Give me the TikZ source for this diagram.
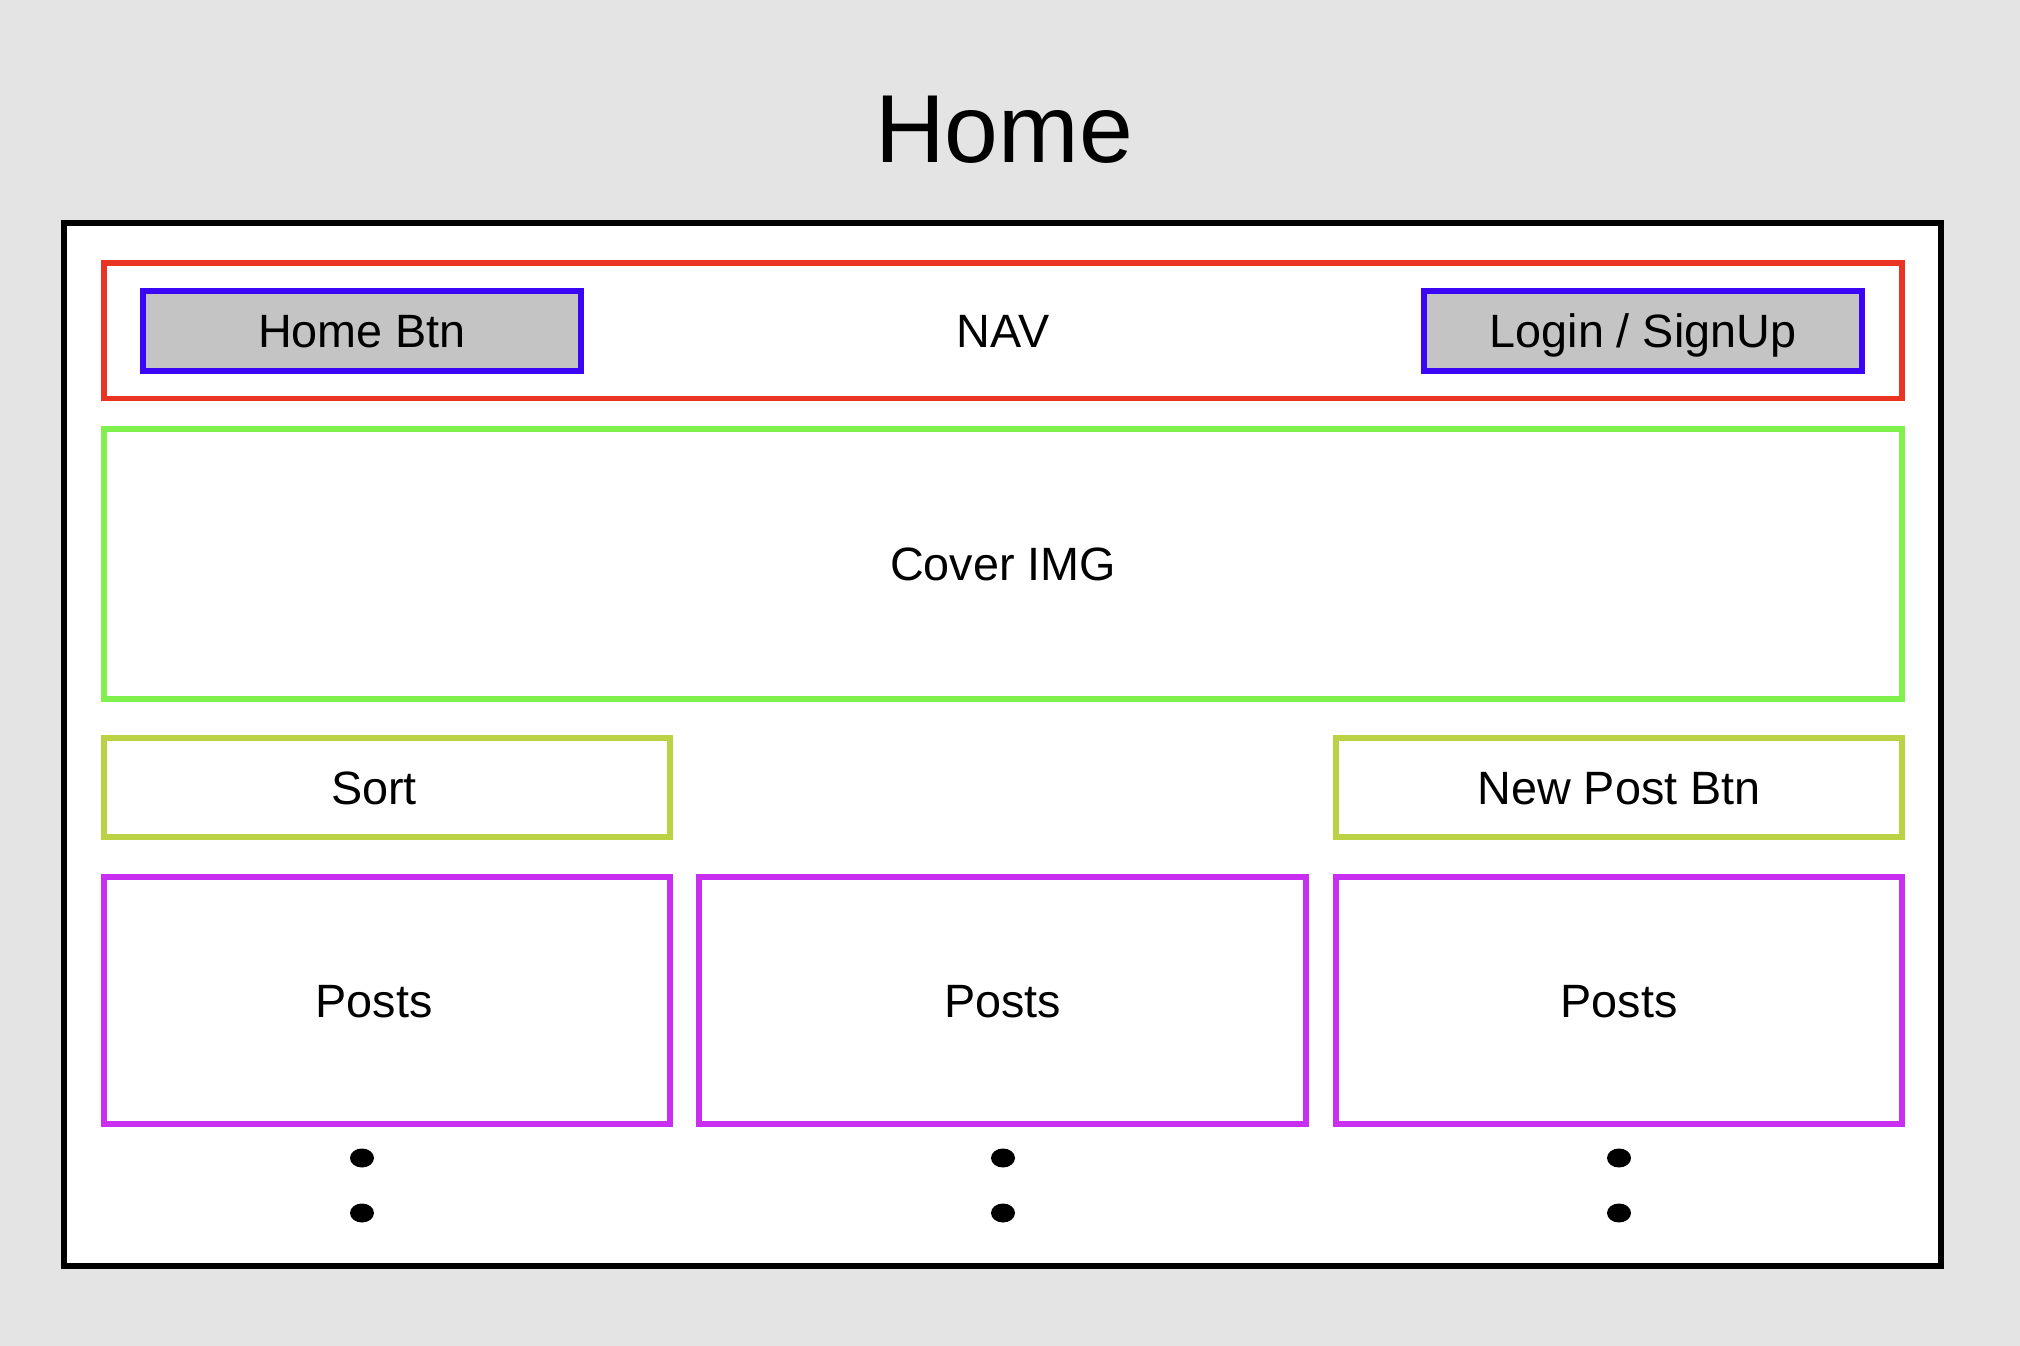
\documentclass[tikz,border=0pt]{standalone}
\usepackage{fontspec}
\setmainfont{Liberation Sans}
\usepackage{tikz}

\definecolor{navred}{HTML}{E93323}
\definecolor{btnblue}{HTML}{3A06F5}
\definecolor{covergreen}{HTML}{80F04C}
\definecolor{ctrlgreen}{HTML}{BBD245}
\definecolor{postpink}{HTML}{C92FF0}
\definecolor{btngray}{HTML}{C4C4C4}
\definecolor{bggray}{HTML}{E4E4E4}

\begin{document}
\begin{tikzpicture}[
    lbl/.style={font=\fontsize{13.3}{16}\selectfont, text height=9.5pt, text depth=0pt, inner sep=0pt},
    pagebox/.style={draw=black, line width=1.7pt, fill=white, inner sep=0pt, minimum width=18.77cm, minimum height=10.43cm},
    navbox/.style={draw=navred, line width=1.45pt, lbl, minimum width=17.98cm, minimum height=1.355cm},
    btn/.style={draw=btnblue, line width=1.7pt, fill=btngray, lbl, minimum width=4.38cm, minimum height=0.80cm},
    coverbox/.style={draw=covergreen, line width=1.45pt, lbl, minimum width=17.98cm, minimum height=2.70cm},
    ctrlbox/.style={draw=ctrlgreen, line width=1.45pt, lbl, minimum width=5.66cm, minimum height=0.99cm},
    postbox/.style={draw=postpink, line width=1.45pt, lbl, minimum width=5.66cm, minimum height=2.47cm}
]
\fill[bggray] (0,0) rectangle (20.2,-13.46);
\useasboundingbox (0,0) rectangle (20.2,-13.46);

\node[anchor=base, font=\fontsize{27.5}{33}\selectfont, inner sep=0pt] (title) at (10.04,-1.63) {Home};

\node[pagebox] (page) at (10.025,-7.445) {};

% nav bar
\node[navbox] (nav) at (10.03,-3.3075) {NAV};
\node[btn] (homebtn) at (3.62,-3.31) {Home Btn};
\node[btn] (login) at (16.43,-3.31) {Login / SignUp};

\node[coverbox] (cover) at (10.03,-5.64) {Cover IMG};

% sort + new post
\node[ctrlbox, label={[lbl, xshift=-0.13cm]center:Sort}] (sort) at (3.87,-7.875) {};
\node[ctrlbox] (newpost) at (16.19,-7.875) {New Post Btn};

% posts
\node[postbox, label={[lbl, xshift=-0.13cm]center:Posts}] (postA) at (3.87,-10.005) {};
\node[postbox, minimum width=6.07cm] (postB) at (10.025,-10.005) {Posts};
\node[postbox] (postC) at (16.19,-10.005) {Posts};

\foreach \x in {3.62,10.03,16.19} {
    \fill (\x,-11.58) ellipse (0.12 and 0.095);
    \fill (\x,-12.13) ellipse (0.12 and 0.095);
}
\end{tikzpicture}
\end{document}
